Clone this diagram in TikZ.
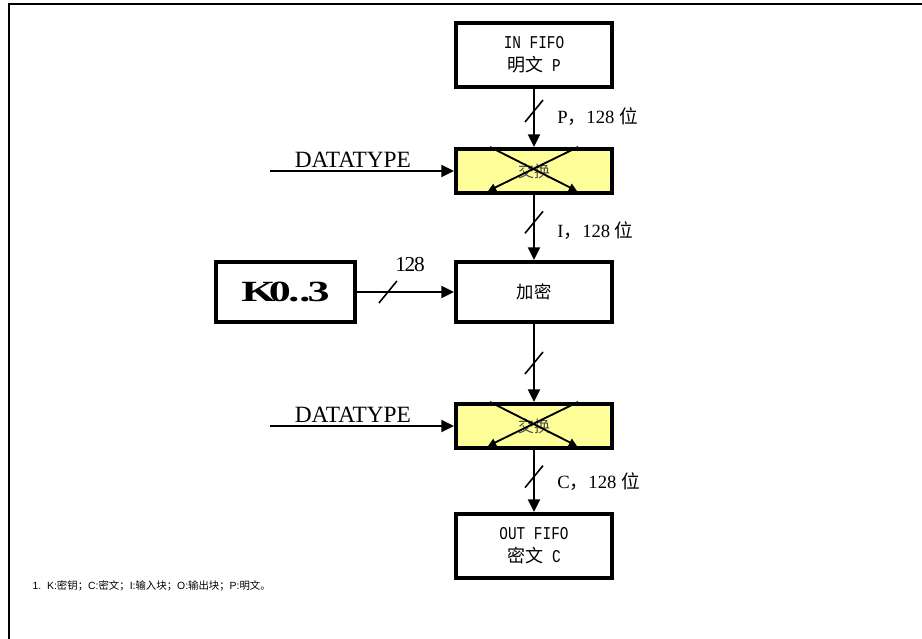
\documentclass[tikz,border=0pt]{standalone}
\usepackage{fontspec}
\setmainfont{Liberation Serif}
\newfontfamily\cjk{Noto Sans CJK SC}
\newfontfamily\monof[FakeStretch=0.8]{Liberation Mono}
\newfontfamily\sansf{Liberation Sans}
\newfontfamily\keyf[FakeStretch=1.5]{Liberation Serif}
\usetikzlibrary{arrows.meta,positioning,calc}
\definecolor{swapyellow}{HTML}{FFFF99}
\tikzset{
  blk/.style={draw,line width=3pt,minimum width=117pt,align=center},
  fifo/.style={blk,minimum height=48pt,font=\monof\fontsize{13.5}{17}\selectfont},
  swapbox/.style={blk,fill=swapyellow,minimum height=33pt,font=\cjk\fontsize{12}{14}\selectfont,text=black!70},
  wire/.style={line width=1.6pt,-{Triangle[length=9.5pt,width=9pt]}},
  xwire/.style={line width=1.4pt,-{Triangle[length=6pt,width=6pt]}},
  lbl/.style={font=\fontsize{14}{16}\selectfont},
  dtlbl/.style={font=\fontsize{17.5}{19}\selectfont,inner sep=2pt}
}
\newcommand{\zh}[1]{{\cjk #1}}
\newcommand{\busmark}[1]{\draw[line width=1.2pt] ($(#1)+(-9,11)$) -- ($(#1)+(9,-11)$);}

\begin{document}
\begin{tikzpicture}[x=0.75pt,y=-0.75pt]
\useasboundingbox (0,0) rectangle (922,639);
\draw[line width=2pt] (9,639) -- (9,4) -- (922,4);
% blocks
\node[fifo] (in) at (534,55) {IN FIFO\\\zh{明文} P};
\node[swapbox] (sw1) at (534,171) {交换};
\node[blk,minimum height=45pt,font=\cjk\fontsize{13}{15}\selectfont] (enc) at (534,292) {加密};
\node[blk,minimum width=104pt,minimum height=45pt,font=\keyf\bfseries\fontsize{22}{24}\selectfont] (key) at (285.5,292) {K\kern-5pt0\kern-2pt..\kern-2pt3};
\node[swapbox] (sw2) at (534,426) {交换};
\node[fifo] (out) at (534,546) {OUT FIFO\\\zh{密文} C};
% crossed arrows in the swap blocks
\foreach \s in {sw1,sw2}{
  \draw[xwire] ($(\s.north)+(-44,0)$) -- ($(\s.south)+(43,-4)$);
  \draw[xwire] ($(\s.north)+(44,0)$) -- ($(\s.south)+(-46,-4)$);
}
% data paths
\coordinate (dt1) at (270,171);
\coordinate (dt2) at (270,426);
\draw[wire] (dt1) -- node[pos=.45,above,dtlbl]{DATATYPE} (sw1);
\draw[wire] (dt2) -- node[pos=.45,above,dtlbl]{DATATYPE} (sw2);
\draw[wire] (in) -- coordinate[pos=.38] (b1) (sw1);
\draw[wire] (sw1) -- coordinate[pos=.42] (b2) (enc);
\draw[wire] (enc) -- coordinate[pos=.5] (b3) (sw2);
\draw[wire] (sw2) -- coordinate[pos=.43] (b4) (out);
\draw[wire] (key) -- coordinate[pos=.32] (bk) (enc);
\busmark{b1}\busmark{b2}\busmark{b3}\busmark{b4}\busmark{bk}
\node[lbl,right=14pt of b1,yshift=-4pt] (lp) {P\zh{，}128 \zh{位}};
\node[lbl,right=14pt of b2,yshift=-6pt] (li) {I\zh{，}128 \zh{位}};
\node[lbl,right=14pt of b4,yshift=-4pt] (lc) {C\zh{，}128 \zh{位}};
\node[font=\fontsize{16}{18}\selectfont] (lk) at (410,265) {1\kern-1pt2\kern-1pt8};
% note
\node[anchor=west,font=\sansf\fontsize{7.8}{9}\selectfont] (note) at (28,586) {1.\ \ K:\zh{密钥；}C:\zh{密文；}I:\zh{输入块；}O:\zh{输出块；}P:\zh{明文。}};
\end{tikzpicture}
\end{document}
